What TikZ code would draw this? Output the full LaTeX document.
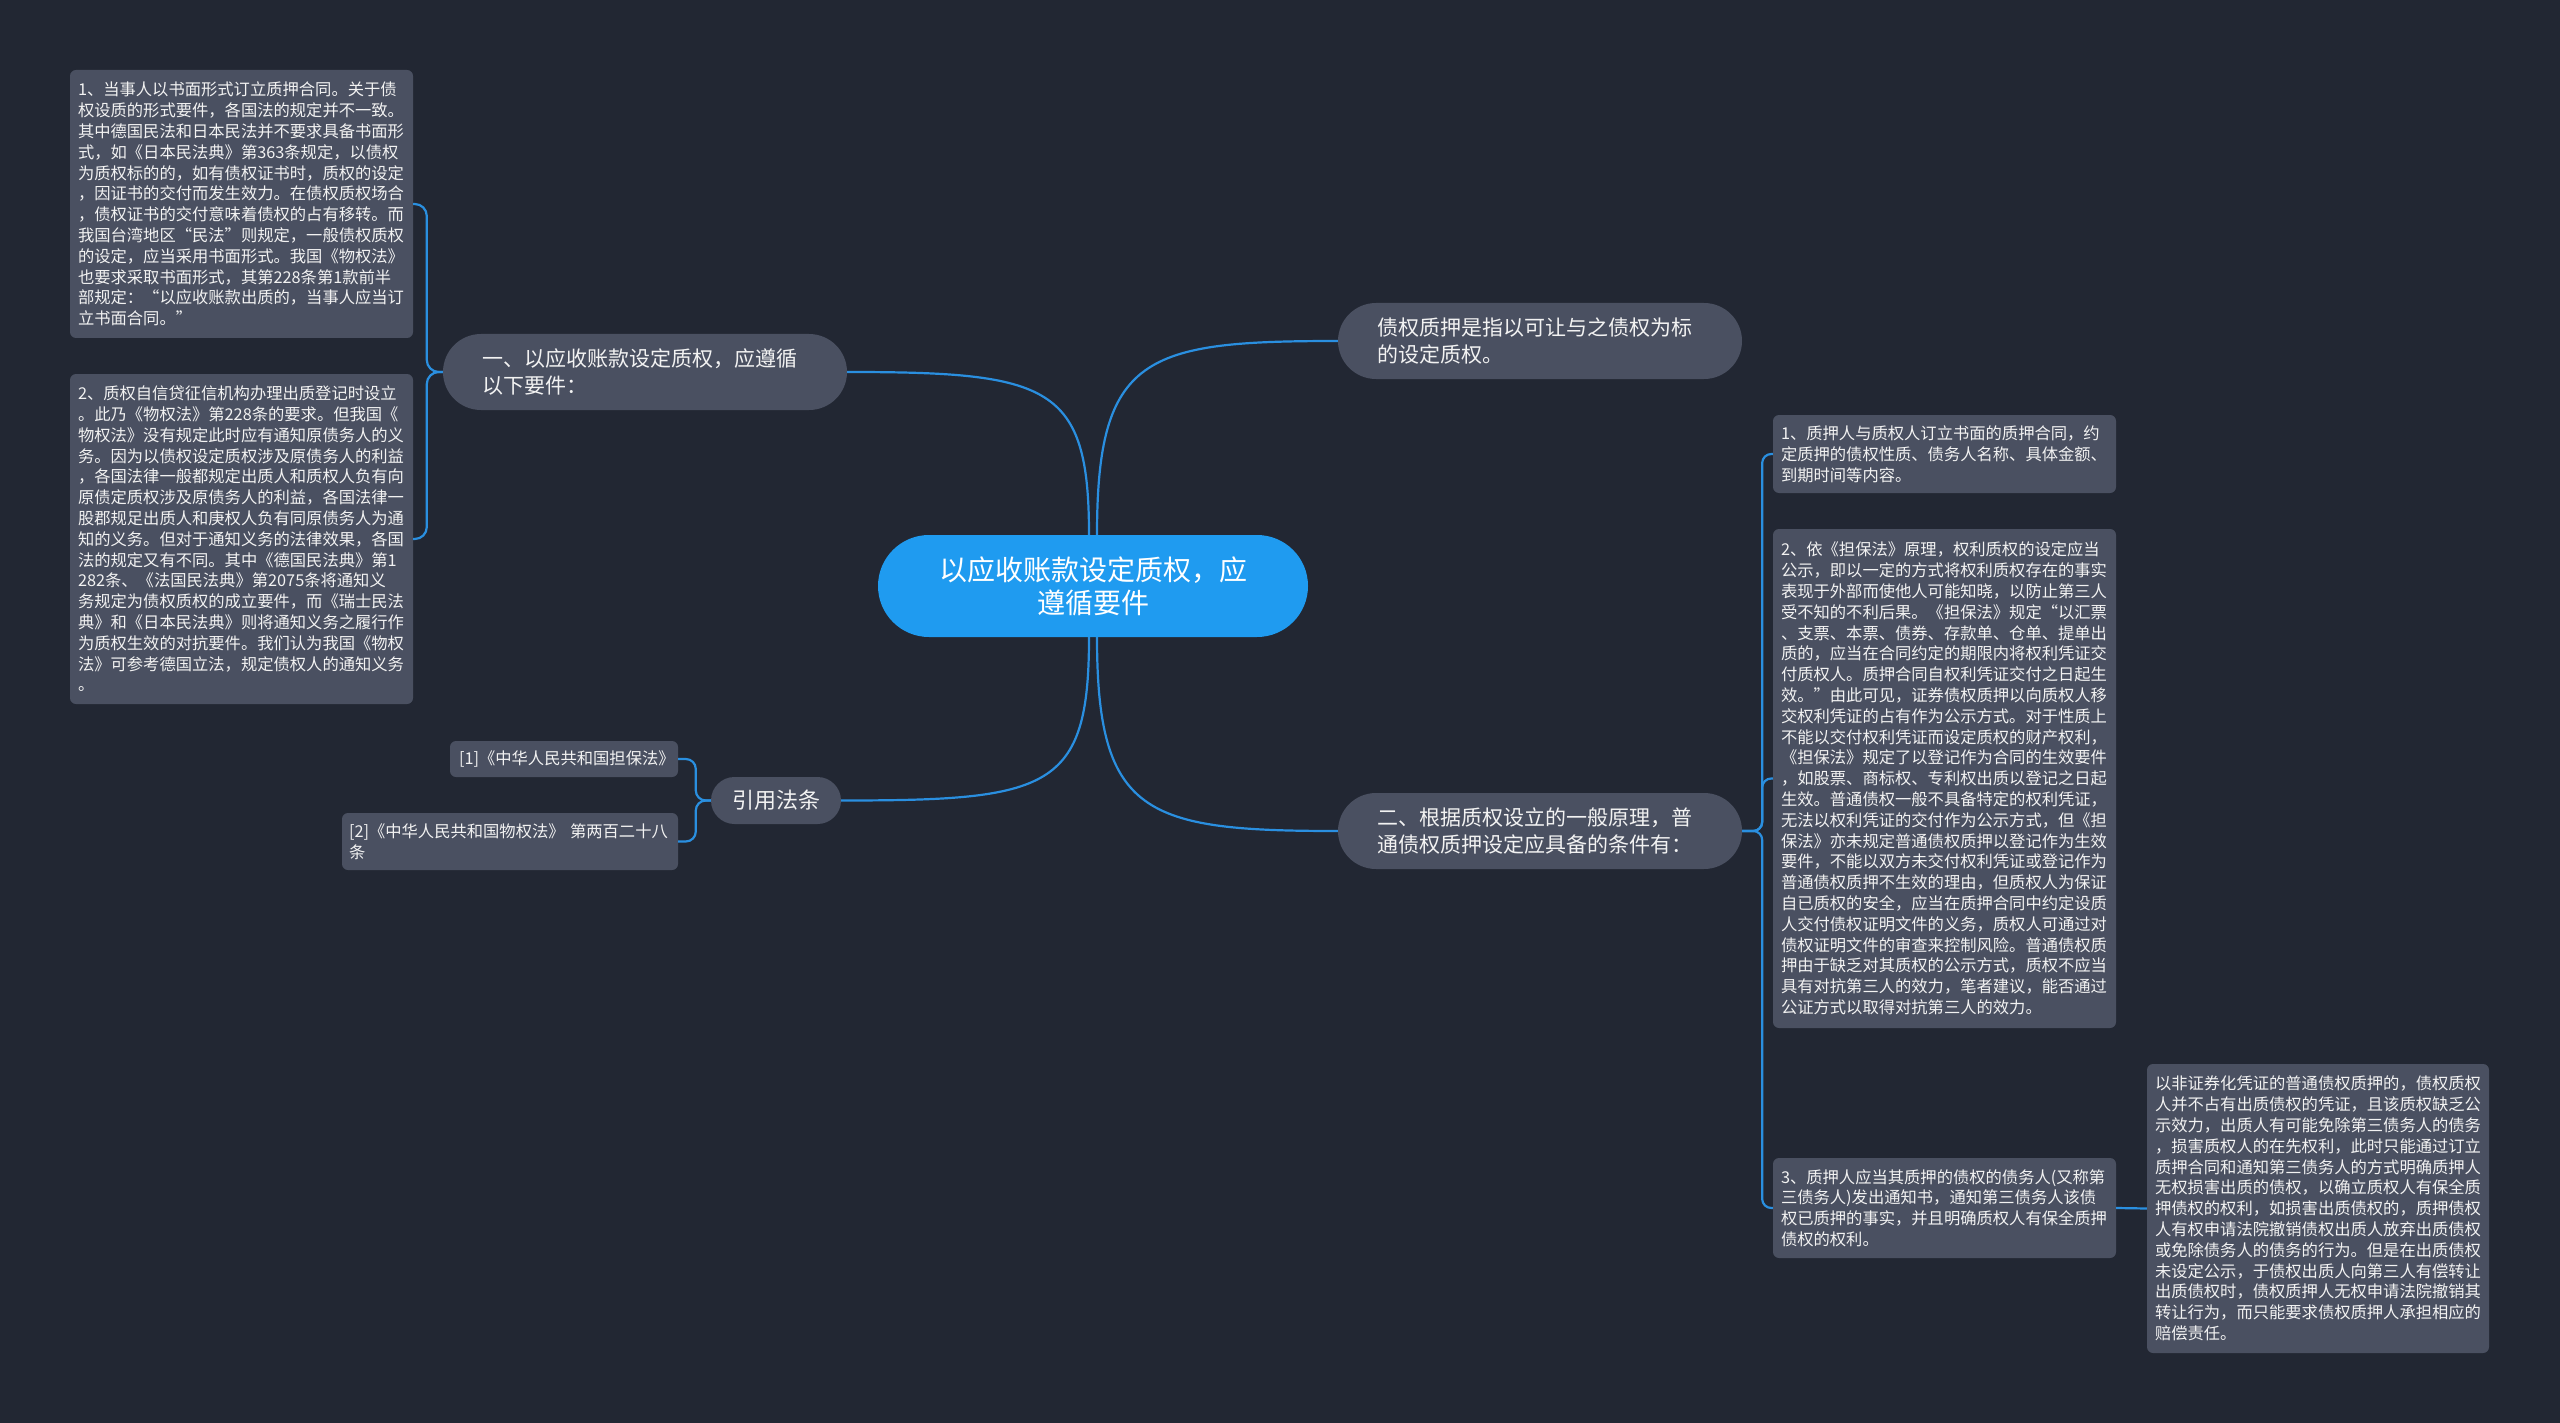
\documentclass[tikz,border=0pt]{standalone}
\usepackage{fontspec}
\setmainfont{Noto Sans CJK SC}
\definecolor{bg}{HTML}{222733}
\definecolor{boxc}{HTML}{4A5061}
\definecolor{hubc}{HTML}{1F9BF0}
\definecolor{wire}{HTML}{2A8FE0}
\definecolor{ink}{HTML}{F2F2F2}
\begin{document}
\begin{tikzpicture}[x=1pt,y=-1pt,
 note/.style={fill=boxc, rounded corners=6pt, text=ink, align=left, inner xsep=8pt, inner ysep=0pt, text width=327pt, font=\fontsize{16.3}{20.8}\selectfont},
 pill/.style={fill=boxc, rounded corners=38pt, text=ink, align=left, inner xsep=39pt, inner ysep=0pt, minimum height=76pt, text width=326pt, font=\fontsize{21}{27}\selectfont},
 wirel/.style={draw=wire, line width=2.2pt}]
\useasboundingbox[fill=bg] (0,0) rectangle (2560,1423);

% central node
\node[fill=hubc, rounded corners=51pt, text=white, align=center, inner xsep=50pt, inner ysep=0pt, text width=330pt, minimum height=102pt, font=\fontsize{28}{33}\selectfont] (hub) at (1093,586) {以应收账款设定质权，应\\遵循要件};

% first level
\node[pill] (sec1) at (645,372) {一、以应收账款设定质权，应遵循\\以下要件：};
\node[pill] (def) at (1540,341) {债权质押是指以可让与之债权为标\\的设定质权。};
\node[pill] (sec2) at (1540,831) {二、根据质权设立的一般原理，普\\通债权质押设定应具备的条件有：};
\node[fill=boxc, rounded corners=23.5pt, text=ink, inner xsep=20pt, inner ysep=0pt, minimum width=130pt, minimum height=47pt, font=\fontsize{22}{27}\selectfont] (cite) at (776,800.5) {引用法条};

% left notes
\node[note, minimum height=268pt] (n1) at (241.5,204) {1、当事人以书面形式订立质押合同。关于债\\权设质的形式要件，各国法的规定并不一致。\\其中德国民法和日本民法并不要求具备书面形\\式，如《日本民法典》第363条规定，以债权\\为质权标的的，如有债权证书时，质权的设定\\，因证书的交付而发生效力。在债权质权场合\\，债权证书的交付意味着债权的占有移转。而\\我国台湾地区“民法”则规定，一般债权质权\\的设定，应当采用书面形式。我国《物权法》\\也要求采取书面形式，其第228条第1款前半\\部规定：“以应收账款出质的，当事人应当订\\立书面合同。”};
\node[note, minimum height=330pt] (n2) at (241.5,539) {2、质权自信贷征信机构办理出质登记时设立\\。此乃《物权法》第228条的要求。但我国《\\物权法》没有规定此时应有通知原债务人的义\\务。因为以债权设定质权涉及原债务人的利益\\，各国法律一般都规定出质人和质权人负有向\\原债定质权涉及原债务人的利益，各国法律一\\股郡规足出质人和庚权人负有同原债务人为通\\知的义务。但对于通知义务的法律效果，各国\\法的规定又有不同。其中《德国民法典》第1\\282条、《法国民法典》第2075条将通知义\\务规定为债权质权的成立要件，而《瑞士民法\\典》和《日本民法典》则将通知义务之履行作\\为质权生效的对抗要件。我们认为我国《物权\\法》可参考德国立法，规定债权人的通知义务\\。};

% citations
\node[note, inner xsep=9pt, text width=210pt, minimum height=36pt] (c1) at (564,759) {[1]《中华人民共和国担保法》};
\node[note, inner xsep=7pt, text width=322pt, minimum height=57pt] (c2) at (510,841.5) {[2]《中华人民共和国物权法》 第两百二十八\\条};

% right notes
\node[note, minimum height=78pt] (r1) at (1944.5,454) {1、质押人与质权人订立书面的质押合同，约\\定质押的债权性质、债务人名称、具体金额、\\到期时间等内容。};
\node[note, minimum height=499pt] (r2) at (1944.5,778.5) {2、依《担保法》原理，权利质权的设定应当\\公示，即以一定的方式将权利质权存在的事实\\表现于外部而使他人可能知晓，以防止第三人\\受不知的不利后果。《担保法》规定“以汇票\\、支票、本票、债券、存款单、仓单、提单出\\质的，应当在合同约定的期限内将权利凭证交\\付质权人。质押合同自权利凭证交付之日起生\\效。”由此可见，证券债权质押以向质权人移\\交权利凭证的占有作为公示方式。对于性质上\\不能以交付权利凭证而设定质权的财产权利，\\《担保法》规定了以登记作为合同的生效要件\\，如股票、商标权、专利权出质以登记之日起\\生效。普通债权一般不具备特定的权利凭证，\\无法以权利凭证的交付作为公示方式，但《担\\保法》亦未规定普通债权质押以登记作为生效\\要件，不能以双方未交付权利凭证或登记作为\\普通债权质押不生效的理由，但质权人为保证\\自已质权的安全，应当在质押合同中约定设质\\人交付债权证明文件的义务，质权人可通过对\\债权证明文件的审查来控制风险。普通债权质\\押由于缺乏对其质权的公示方式，质权不应当\\具有对抗第三人的效力，笔者建议，能否通过\\公证方式以取得对抗第三人的效力。};
\node[note, minimum height=100pt] (r3) at (1944.5,1208) {3、质押人应当其质押的债权的债务人(又称第\\三债务人)发出通知书，通知第三债务人该债\\权已质押的事实，并且明确质权人有保全质押\\债权的权利。};
\node[note, text width=326pt, minimum height=289pt] (fr) at (2318,1208.5) {以非证券化凭证的普通债权质押的，债权质权\\人并不占有出质债权的凭证，且该质权缺乏公\\示效力，出质人有可能免除第三债务人的债务\\，损害质权人的在先权利，此时只能通过订立\\质押合同和通知第三债务人的方式明确质押人\\无权损害出质的债权，以确立质权人有保全质\\押债权的权利，如损害出质债权的，质押债权\\人有权申请法院撤销债权出质人放弃出质债权\\或免除债务人的债务的行为。但是在出质债权\\未设定公示，于债权出质人向第三人有偿转让\\出质债权时，债权质押人无权申请法院撤销其\\转让行为，而只能要求债权质押人承担相应的\\赔偿责任。};

% connectors from hub
\draw[wirel] ([xshift=-4pt]hub.north) .. controls (1089,385) and (1050,372) .. (sec1.east);
\draw[wirel] ([xshift=4pt]hub.north) .. controls (1097,355) and (1145,341) .. (def.west);
\draw[wirel] ([xshift=-4pt]hub.south) .. controls (1089,790) and (1050,800.5) .. (cite.east);
\draw[wirel] ([xshift=4pt]hub.south) .. controls (1097,815) and (1145,831) .. (sec2.west);

% brackets
\draw[wirel, rounded corners=12pt] (sec1.west) -- ++(-16,0) |- (n1.east);
\draw[wirel, rounded corners=12pt] (sec1.west) -- ++(-16,0) |- (n2.east);
\draw[wirel, rounded corners=10pt] (cite.west) -- ++(-15,0) |- (c1.east);
\draw[wirel, rounded corners=10pt] (cite.west) -- ++(-15,0) |- (c2.east);
\draw[wirel, rounded corners=9pt] (sec2.east) -- ++(20,0) |- (r1.west);
\draw[wirel, rounded corners=9pt] (sec2.east) -- ++(20,0) |- (r2.west);
\draw[wirel, rounded corners=9pt] (sec2.east) -- ++(20,0) |- (r3.west);
\draw[wirel] (r3.east) -- (fr.west);
\end{tikzpicture}
\end{document}
